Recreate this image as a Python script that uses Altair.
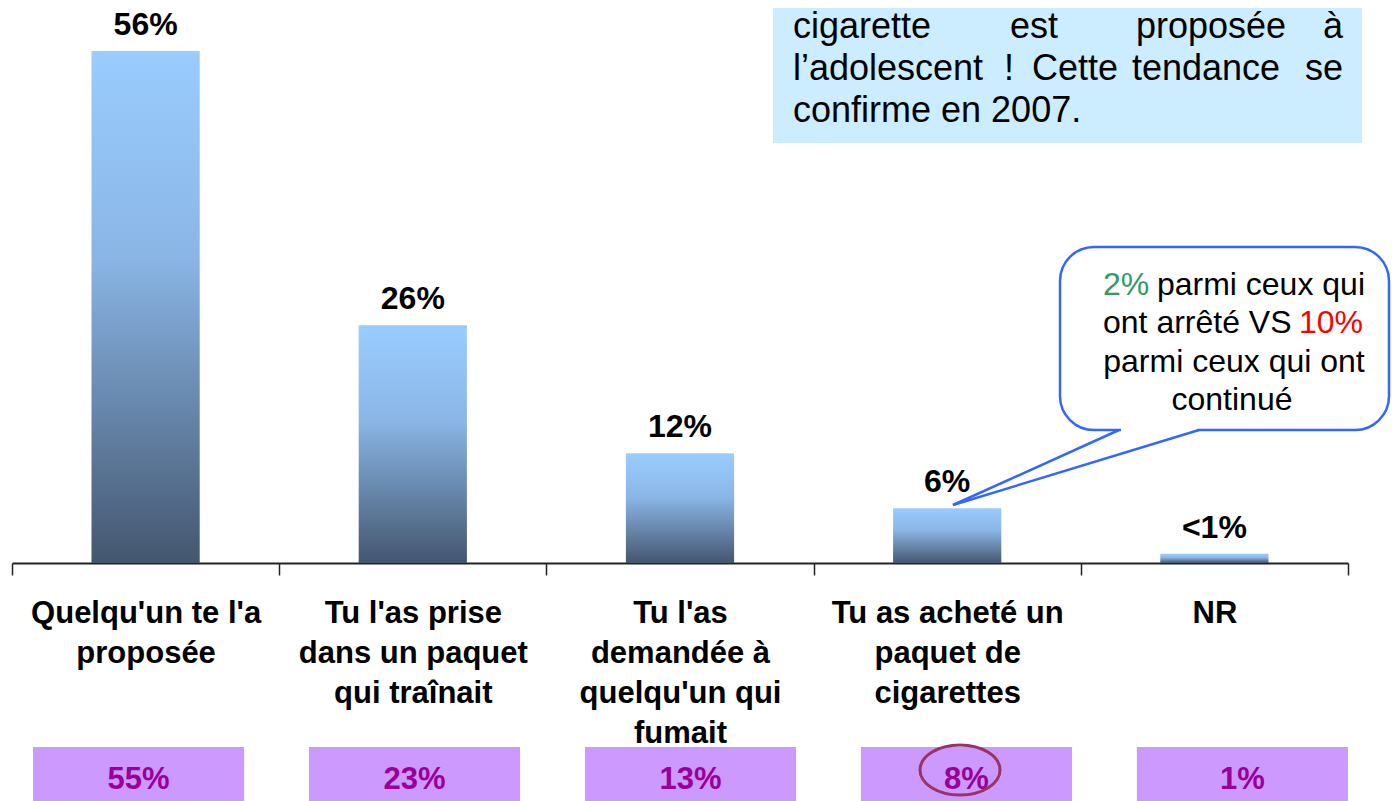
import altair as alt
import pandas as pd

# ---------------- data ----------------
categories = [
    "Quelqu'un te l'a|proposée",
    "Tu l'as prise|dans un paquet|qui traînait",
    "Tu l'as|demandée à|quelqu'un qui|fumait",
    "Tu as acheté un|paquet de|cigarettes",
    "NR",
]
values_now = [56, 26, 12, 6, 1]
labels_now = ["56%", "26%", "12%", "6%", "<1%"]
labels_2007 = ["55%", "23%", "13%", "8%", "1%"]

df = pd.DataFrame({"cat": categories, "v": values_now, "lab": labels_now, "prev": labels_2007})
one = pd.DataFrame({"k": [0]})

FONT = "Liberation Sans"
W, H = 1336, 555

grad = alt.Gradient(
    gradient="linear",
    stops=[
        alt.GradientStop(color="#9ACCFF", offset=0),
        alt.GradientStop(color="#8AB6E6", offset=0.4),
        alt.GradientStop(color="#44566F", offset=1),
    ],
    x1=0, x2=0, y1=0, y2=1,
)

xbar = alt.X(
    "cat:N",
    scale=alt.Scale(domain=categories, paddingInner=0, paddingOuter=0),
    axis=alt.Axis(
        title=None,
        labelExpr="split(datum.label, '|')",
        labelAngle=0,
        labelFont=FONT,
        labelFontSize=31,
        labelFontWeight="bold",
        labelColor="black",
        labelLineHeight=40,
        labelPadding=23,
        labelBaseline="top",
        labelLimit=0,
        labelOverlap=False,
        labelFlush=False,
        tickBand="extent",
        tickSize=12,
        tickWidth=1.5,
        tickColor="#222222",
        domainColor="#222222",
        domainWidth=2,
        grid=False,
    ),
)
ybar = alt.Y("v:Q", scale=alt.Scale(domain=[0, 60.7], nice=False, zero=True), axis=None)

bars = alt.Chart(df).mark_bar(width=alt.RelativeBandSize(0.405), color=grad).encode(x=xbar, y=ybar)
bar_text = alt.Chart(df).mark_text(
    font=FONT, fontSize=32, fontWeight="bold", color="black", baseline="alphabetic", dy=-16
).encode(x=xbar, y=ybar, text="lab:N")
bar_layer = alt.layer(bars, bar_text)

xbox = alt.X(
    "cat:N",
    scale=alt.Scale(domain=categories, range=[21, 1336], paddingInner=0.235, paddingOuter=0),
    axis=None,
)
boxes = alt.Chart(df).mark_rect(color="#CC99FF").encode(x=xbox, y=alt.value(739), y2=alt.value(800))
box_text = alt.Chart(df).mark_text(
    font=FONT, fontSize=31, fontWeight="bold", color="#990099", baseline="alphabetic"
).encode(x=xbox, y=alt.value(781), text="prev:N")
box_layer = alt.layer(boxes, box_text)


def txt(s, x, y, size=30, align="left", color="black", weight="normal"):
    return alt.Chart(one).mark_text(
        text=s, font=FONT, fontSize=size, fontWeight=weight, color=color,
        align=align, baseline="alphabetic",
    ).encode(x=alt.value(x), y=alt.value(y))


def rule(x, y, x2, y2, color, w):
    return alt.Chart(one).mark_rule(color=color, strokeWidth=w).encode(
        x=alt.value(x), y=alt.value(y), x2=alt.value(x2), y2=alt.value(y2)
    )


# top-right note box
note_box = alt.Chart(one).mark_rect(color="#CCECFF").encode(
    x=alt.value(761), x2=alt.value(1350), y=alt.value(-8), y2=alt.value(135)
)
NS = 36
note = [
    txt("cigarette", 781, 30, NS),
    txt("est", 998, 30, NS),
    txt("proposée", 1124, 30, NS),
    txt("à", 1331, 30, NS, align="right"),
    txt("l’adolescent", 781, 72, NS),
    txt("!", 992, 72, NS),
    txt("Cette", 1020, 72, NS),
    txt("tendance", 1120, 72, NS),
    txt("se", 1331, 72, NS, align="right"),
    txt("confirme en 2007.", 781, 114, NS),
]

# speech bubble
BLUE = "#3366FF"
bubble = alt.Chart(one).mark_rect(
    fill="white", stroke=BLUE, strokeWidth=2.5, cornerRadius=34
).encode(x=alt.value(1048), x2=alt.value(1377), y=alt.value(239), y2=alt.value(422))
tail = [
    rule(1109, 422, 1185, 422, "white", 5),
    rule(1107, 422, 941, 497, BLUE, 2.5),
    rule(1187, 422, 941, 497, BLUE, 2.5),
]
BS = 32
bubble_text = [
    txt("2%", 1091, 287, BS, color="#339966"),
    txt("parmi ceux qui", 1353, 287, BS, align="right"),
    txt("ont arrêté VS", 1091, 325, BS),
    txt("10%", 1351, 325, BS, align="right", color="#FF0000"),
    txt("parmi ceux qui ont", 1222, 364, BS, align="center"),
    txt("continué", 1220, 402, BS, align="center"),
]

ellipse = alt.Chart(one).mark_point(
    shape="M -1 0 A 1 0.625 0 1 0 1 0 A 1 0.625 0 1 0 -1 0 Z",
    size=6400, filled=False, stroke="#993366", strokeWidth=3, opacity=1,
).encode(x=alt.value(948), y=alt.value(762))

chart = alt.layer(
    bar_layer, box_layer, ellipse, note_box, *note, bubble, *tail, *bubble_text
).resolve_scale(x="independent").properties(
    width=W, height=H,
    autosize=alt.AutoSizeParams(type="none"),
    padding={"left": 4, "top": 0, "right": 43, "bottom": 238},
    background="white",
).configure_view(stroke=None)

chart.save("out.html", embed_options={"renderer": "svg", "actions": False})
